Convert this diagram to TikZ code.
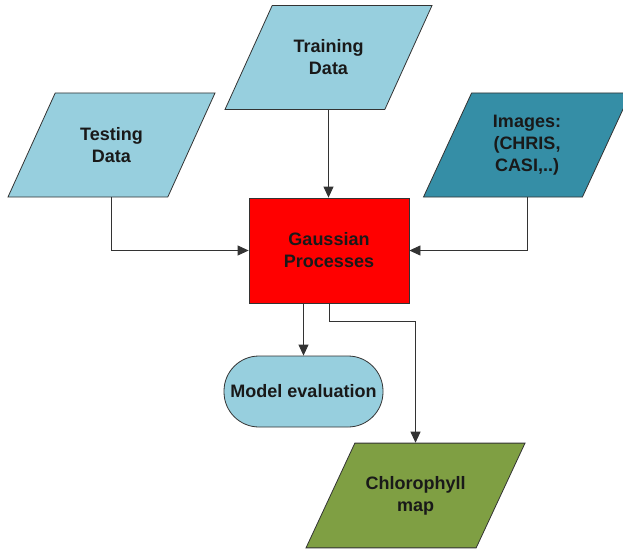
\documentclass[tikz,border=0pt]{standalone}
\usepackage{fontspec}
\setmainfont{Liberation Sans}
\usetikzlibrary{arrows.meta,shapes.geometric}
\definecolor{lightaqua}{HTML}{97CFDE}
\definecolor{darkaqua}{HTML}{358EA6}
\definecolor{olivemap}{HTML}{7F9F43}
\definecolor{outline}{HTML}{333333}
\tikzset{
    line cap=round,line join=round,
    box/.style={draw=outline,line width=0.8pt,text=black!90,inner sep=2pt,
        font=\fontsize{18}{22}\selectfont\bfseries,align=center},
    datain/.style={box,trapezium,trapezium left angle=65,trapezium right angle=115,
        trapezium stretches body,inner ysep=33pt,minimum width=207pt,minimum height=104pt},
    process/.style={box,rectangle,minimum width=160pt,minimum height=105pt},
    terminal/.style={box,rectangle,rounded corners=35pt,minimum width=159pt,minimum height=71pt},
    flow/.style={draw=black!80,line width=0.8pt,-{Triangle[length=11pt,width=10pt]}},
}
\begin{document}
\begin{tikzpicture}[x=1pt,y=1pt]
    \useasboundingbox (0,0) rectangle (623,550);
    \node [datain, fill=lightaqua] (train) at (328.5,492.5) {Training\\Data};
    \node [datain, fill=lightaqua] (test) at (111.5,405) {Testing\\Data};
    \node [datain, fill=darkaqua, inner ysep=21.5pt] (img) at (527,405) {Images:\\(CHRIS,\\CASI,..)};
    \node [process, fill=red] (gp) at (329,299.5) {Gaussian\\Processes};
    \node [terminal, fill=lightaqua] (eval) at (303.5,158.5) {Model evaluation};
    \node [datain, fill=olivemap, minimum width=219pt] (chl) at (415.5,54.5) {Chlorophyll\\map};

    \draw[flow] (train) -- (train |- gp.north);
    \draw[flow] (test) |- (gp);
    \draw[flow] (img) |- (gp);
    \draw[flow] (eval |- gp.south) -- (eval);
    \draw[flow] (gp.south) -- ++(0,-18) -| (chl);
\end{tikzpicture}
\end{document}
